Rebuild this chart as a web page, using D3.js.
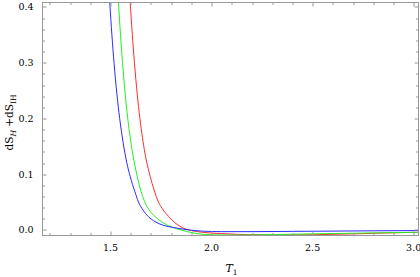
<!DOCTYPE html>
<html>
<head>
<meta charset="utf-8">
<script src="https://cdn.jsdelivr.net/npm/d3@7"></script>
<style>
  body { margin: 0; background: #fff; }
  svg text { font-family: "DejaVu Serif", "Liberation Serif", serif; }
</style>
</head>
<body>
<svg id="chart" width="420" height="277"></svg>
<script>
// values: [T1, dS]
let blueSeries = [[1.485,0.48],[1.496,0.408],[1.517,0.30],[1.545,0.20],[1.562,0.157],[1.58,0.121],[1.597,0.096],[1.62,0.069],[1.638,0.050],[1.66,0.036],[1.687,0.024],[1.72,0.015],[1.76,0.0085],[1.81,0.0045],[1.86,0.0015],[1.9,-0.0005],[1.95,-0.002],[2.05,-0.003],[2.2,-0.003],[2.4,-0.0025],[2.6,-0.002],[2.8,-0.0015],[3.05,-0.001]];
let greenSeries = [[1.528,0.48],[1.539,0.408],[1.559,0.30],[1.585,0.20],[1.608,0.14],[1.632,0.096],[1.65,0.07],[1.671,0.049],[1.695,0.034],[1.72,0.024],[1.76,0.013],[1.80,0.0055],[1.84,0.001],[1.88,-0.003],[1.92,-0.006],[1.97,-0.0082],[2.05,-0.009],[2.15,-0.009],[2.3,-0.0082],[2.5,-0.007],[2.7,-0.0058],[2.9,-0.0047],[3.05,-0.004]];
let redSeries = [[1.585,0.48],[1.597,0.408],[1.618,0.30],[1.645,0.20],[1.67,0.138],[1.696,0.096],[1.715,0.072],[1.737,0.050],[1.76,0.036],[1.788,0.024],[1.815,0.014],[1.844,0.0065],[1.87,0.002],[1.90,-0.001],[1.95,-0.004],[2.05,-0.0065],[2.2,-0.0085],[2.35,-0.009],[2.5,-0.0085],[2.7,-0.007],[2.9,-0.005],[3.05,-0.004]];

let seriesList = [
  {color: '#ff2a2a', points: redSeries},
  {color: '#22ee22', points: greenSeries},
  {color: '#2a2aff', points: blueSeries}
];

let xMajorTicks = [1.5, 2.0, 2.5, 3.0];
let xMinorTicks = d3.range(12, 31).map((d) => d / 10);
let yMajorTicks = [0.0, 0.1, 0.2, 0.3, 0.4];
let yMinorTicks = d3.range(0, 21).map((d) => d / 50);

let margin = {top: 2.5, right: 1.5, bottom: 41.5, left: 42.5},
  width = 420 - margin.left - margin.right,
  height = 277 - margin.top - margin.bottom;

let svg = d3.select('#chart')
  .append('g')
  .attr('transform', 'translate(' + margin.left + ',' + margin.top + ')');

let x = d3.scaleLinear().domain([1.163, 3.024]).range([0, width]);
let y = d3.scaleLinear().domain([-0.0099, 0.408]).range([height, 0]);

svg.append('clipPath')
  .attr('id', 'plotClip')
  .append('rect')
  .attr('width', width)
  .attr('height', height);

let line = d3.line()
  .x((d) => x(d[0]))
  .y((d) => y(d[1]))
  .curve(d3.curveMonotoneX);

svg.append('g')
  .attr('clip-path', 'url(#plotClip)')
  .selectAll('path')
  .data(seriesList)
  .enter().append('path')
  .attr('d', (d) => line(d.points))
  .attr('fill', 'none')
  .attr('stroke', (d) => d.color)
  .attr('stroke-width', 1);

// frame with inward ticks on all four sides
let tickColor = '#999';
let frame = svg.append('g').attr('stroke', tickColor).attr('stroke-width', 1);

let isMajorX = (t) => xMajorTicks.some((m) => Math.abs(m - t) < 1e-6);
let isMajorY = (t) => yMajorTicks.some((m) => Math.abs(m - t) < 1e-6);

// bottom and top
frame.selectAll('.xt')
  .data(xMinorTicks)
  .enter().append('line')
  .attr('x1', (d) => Math.round(x(d)) + 0.5)
  .attr('x2', (d) => Math.round(x(d)) + 0.5)
  .attr('y1', height)
  .attr('y2', (d) => height - (isMajorX(d) ? 4 : 2.5));
frame.selectAll('.xtt')
  .data(xMinorTicks)
  .enter().append('line')
  .attr('x1', (d) => Math.round(x(d)) + 0.5)
  .attr('x2', (d) => Math.round(x(d)) + 0.5)
  .attr('y1', 0)
  .attr('y2', (d) => (isMajorX(d) ? 4 : 2.5));

// left and right
frame.selectAll('.yt')
  .data(yMinorTicks)
  .enter().append('line')
  .attr('y1', (d) => Math.round(y(d)) + 0.5)
  .attr('y2', (d) => Math.round(y(d)) + 0.5)
  .attr('x1', 0)
  .attr('x2', (d) => (isMajorY(d) ? 4 : 2.5));
frame.selectAll('.ytr')
  .data(yMinorTicks)
  .enter().append('line')
  .attr('y1', (d) => Math.round(y(d)) + 0.5)
  .attr('y2', (d) => Math.round(y(d)) + 0.5)
  .attr('x1', width)
  .attr('x2', (d) => width - (isMajorY(d) ? 4 : 2.5));

frame.append('rect')
  .attr('width', width)
  .attr('height', height)
  .attr('fill', 'none');

// tick labels
svg.append('g')
  .selectAll('text')
  .data(xMajorTicks)
  .enter().append('text')
  .attr('x', (d) => x(d))
  .attr('y', height + 15)
  .attr('text-anchor', 'middle')
  .attr('font-size', 9.5)
  .text((d) => d3.format('.1f')(d));

svg.append('g')
  .selectAll('text')
  .data(yMajorTicks)
  .enter().append('text')
  .attr('x', -9)
  .attr('y', (d) => y(d))
  .attr('dy', '0.35em')
  .attr('text-anchor', 'end')
  .attr('font-size', 9.5)
  .text((d) => d3.format('.1f')(d));

// axis titles
let xTitle = svg.append('text')
  .attr('x', 183)
  .attr('y', height + 36)
  .attr('font-size', 11);
xTitle.append('tspan').attr('font-style', 'italic').text('T');
xTitle.append('tspan').attr('dy', 3).attr('font-size', 7.5).text('1');

let yTitle = svg.append('text')
  .attr('transform', 'translate(' + (-30) + ',' + 120 + ') rotate(-90)')
  .attr('text-anchor', 'middle')
  .attr('font-size', 10.5);
yTitle.append('tspan').text('dS');
yTitle.append('tspan').attr('dy', 3).attr('font-size', 7.5).attr('font-style', 'italic').text('H');
yTitle.append('tspan').attr('dy', -3).text(' +dS');
yTitle.append('tspan').attr('dy', 3).attr('font-size', 7.5).text('IH');
</script>
</body>
</html>
